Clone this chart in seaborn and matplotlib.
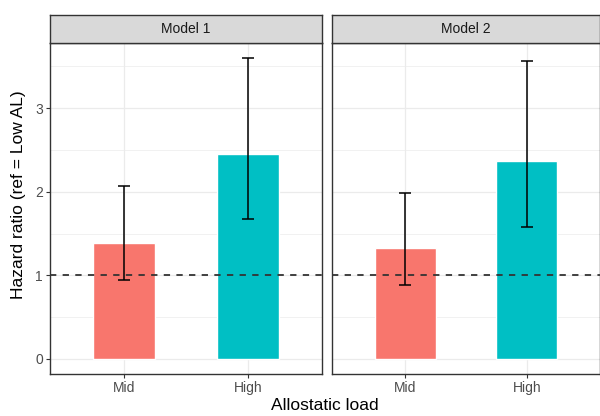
import pandas as pd
import matplotlib
matplotlib.use('Agg')
import matplotlib.pyplot as plt
import seaborn as sns

# data
models = ['Model 1', 'Model 2']
levels = ['Mid', 'High']
hr_model1 = [1.385, 2.45]
lo_model1 = [0.94, 1.68]
hi_model1 = [2.065, 3.60]
hr_model2 = [1.325, 2.37]
lo_model2 = [0.88, 1.58]
hi_model2 = [1.985, 3.56]
colors = ['#F8766D', '#00BFC4']

df = pd.DataFrame({
    'model': [models[0]] * 2 + [models[1]] * 2,
    'level': levels * 2,
    'hr': hr_model1 + hr_model2,
    'lo': lo_model1 + lo_model2,
    'hi': hi_model1 + hi_model2,
})

sns.set_theme(style='white')
plt.rcParams['font.family'] = ['Liberation Sans', 'DejaVu Sans']

W, H = 600, 416
fig = plt.figure(figsize=(W / 100, H / 100), dpi=100)


def box(x0, y0, x1, y1):
    # pixel box (top-left origin) -> figure fraction
    return [x0 / W, 1 - y1 / H, (x1 - x0) / W, (y1 - y0) / H]


panels = [(50, 322), (332, 600)]
top, strip_bot, bottom = 15, 43, 374
ymin, ymax = -0.18, 3.78

for i, (m, (x0, x1)) in enumerate(zip(models, panels)):
    ax = fig.add_axes(box(x0, strip_bot, x1, bottom))
    sub = df[df['model'] == m]
    sns.barplot(data=sub, x='level', y='hr', hue='level', order=levels,
                hue_order=levels, palette=colors, width=0.5, legend=False,
                saturation=1, ax=ax, zorder=3)
    ax.errorbar(x=range(len(sub)), y=sub['hr'],
                yerr=[sub['hr'] - sub['lo'], sub['hi'] - sub['hr']],
                fmt='none', ecolor='black', elinewidth=1.1, capsize=4.3,
                capthick=1.1, zorder=4)
    ax.axhline(1, color='#333333', lw=1.3, ls=(0, (3.5, 3.5)), zorder=5)
    ax.set_xlim(-0.6, 1.6)
    ax.set_ylim(ymin, ymax)
    ax.set_yticks([0, 1, 2, 3])
    ax.set_yticks([0.5, 1.5, 2.5, 3.5], minor=True)
    ax.grid(True, which='major', color='#EBEBEB', lw=0.9, zorder=0)
    ax.grid(True, which='minor', axis='y', color='#EBEBEB', lw=0.5, zorder=0)
    ax.set_axisbelow(True)
    ax.set_xlabel('')
    ax.set_ylabel('')
    for s in ax.spines.values():
        s.set_color('#333333')
        s.set_linewidth(1.0)
    ax.tick_params(axis='both', which='major', direction='out', length=3,
                   width=0.8, color='#333333', labelcolor='#4D4D4D',
                   labelsize=10, pad=2, bottom=True, left=(i == 0))
    ax.tick_params(axis='y', which='minor', length=0)
    if i > 0:
        ax.set_yticklabels([])

    sax = fig.add_axes(box(x0, top, x1, strip_bot))
    sax.set_facecolor('#D9D9D9')
    sax.set_xticks([])
    sax.set_yticks([])
    for s in sax.spines.values():
        s.set_color('#333333')
        s.set_linewidth(1.0)
    sax.text(0.5, 0.5, m, ha='center', va='center', fontsize=10,
             color='#1A1A1A', transform=sax.transAxes)

fig.text(325 / W, 1 - 405 / H, 'Allostatic load', ha='center', va='center',
         fontsize=12.5, color='black')
fig.text(19 / W, 1 - 195 / H, 'Hazard ratio (ref = Low AL)', ha='center',
         va='center', rotation=90, fontsize=12.5, color='black')

fig.savefig('out.png', dpi=100)
